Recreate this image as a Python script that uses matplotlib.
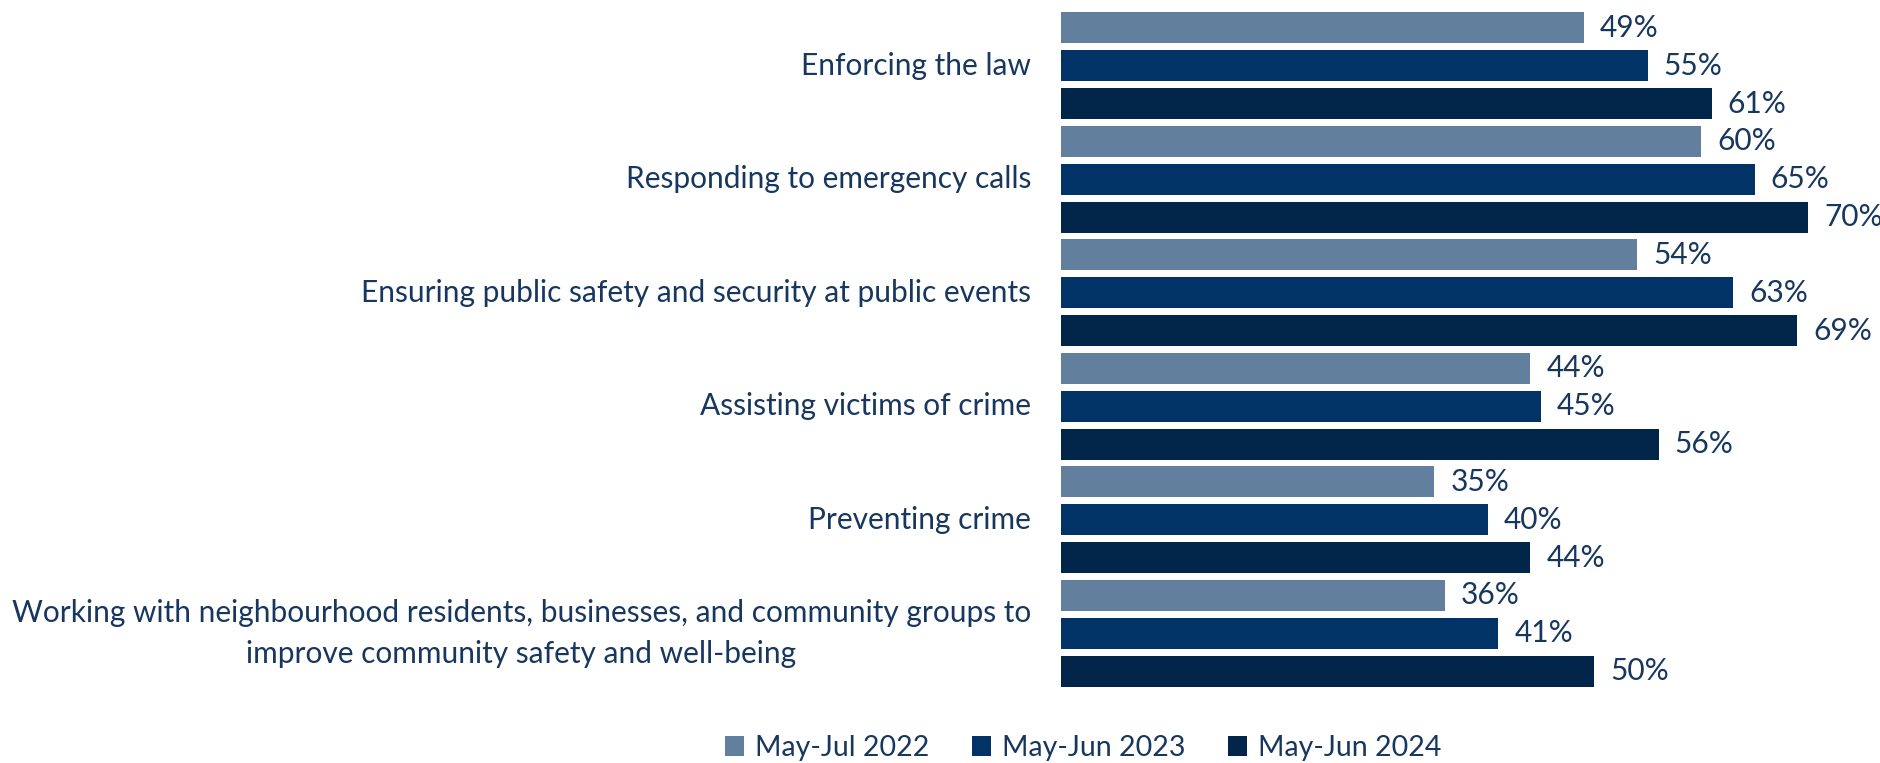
import matplotlib.pyplot as plt
import numpy as np
from matplotlib import rcParams

rcParams['font.family'] = ['Lato', 'DejaVu Sans']

# survey data
categories = [
    'Enforcing the law',
    'Responding to emergency calls',
    'Ensuring public safety and security at public events',
    'Assisting victims of crime',
    'Preventing crime',
    'Working with neighbourhood residents, businesses, and community groups to\nimprove community safety and well-being',
]
periods = ['May-Jul 2022', 'May-Jun 2023', 'May-Jun 2024']
vals_2022 = [49, 60, 54, 44, 35, 36]
vals_2023 = [55, 65, 63, 45, 40, 41]
vals_2024 = [61, 70, 69, 56, 44, 50]

colors = ['#627F9D', '#013366', '#02264A']
text_color = '#17375E'
fs = 21.5

fig = plt.figure(figsize=(18.81, 7.63), dpi=100)
# axes placed in pixel terms: bars start at x=1061, rows 9..690 px from top
W, H = 1881.0, 763.0
top_px, bot_px = 9.0, 690.0
ax = fig.add_axes([1061 / W, (H - bot_px) / H, 1 - 1061 / W, (bot_px - top_px) / H])

series = [vals_2022, vals_2023, vals_2024]
n = len(categories)
for j, vals in enumerate(series):
    ypos = np.arange(n) * 3 + j
    bars = ax.barh(ypos, vals, height=0.82, color=colors[j], label=periods[j])
    for y, v in zip(ypos, vals):
        ax.text(v + 1.5, y, '%d%%' % v, va='center', ha='left',
                fontsize=fs, color=text_color)

ax.set_ylim(3 * n - 0.5, -0.5)
ax.set_xlim(0, 820 / 10.67)
ax.axis('off')

# category labels right-aligned left of the bars
for i, cat in enumerate(categories):
    ax.text(-2.8, i * 3 + 1, cat, ha='right', va='center', fontsize=fs,
            color=text_color, multialignment='center', linespacing=1.55)

handles, labels = ax.get_legend_handles_labels()
leg = fig.legend(handles, labels, loc='center', bbox_to_anchor=(0.576, (H - 748) / H),
                 ncol=3, frameon=False, fontsize=20.5, handlelength=0.65,
                 handleheight=0.65, handletextpad=0.4, columnspacing=1.5)
for t in leg.get_texts():
    t.set_color(text_color)

plt.savefig('out.png', dpi=100)
